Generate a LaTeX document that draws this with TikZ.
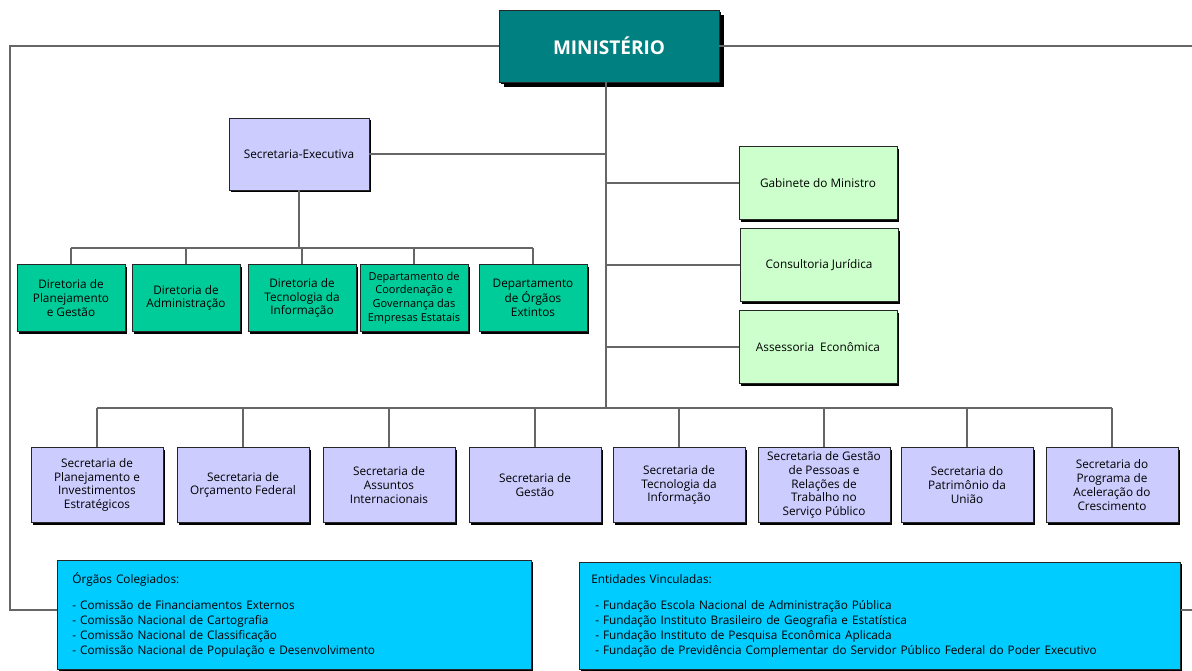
\documentclass[tikz,border=0pt]{standalone}
\usepackage{fontspec}
\setmainfont{Open Sans}
\usetikzlibrary{shadows}
\definecolor{petrol}{RGB}{0,128,128}
\definecolor{lavender}{RGB}{204,204,255}
\definecolor{jade}{RGB}{0,204,153}
\definecolor{mint}{RGB}{204,255,204}
\definecolor{sky}{RGB}{0,204,255}
\tikzset{
  box/.style = {draw=black!85, line width=0.8pt, align=center, inner sep=1pt,
    font=\fontsize{11.8}{13.8}\selectfont,
    drop shadow={shadow xshift=2pt, shadow yshift=-2pt, opacity=1, fill=black}},
  ministerio/.style = {box, fill=petrol, text=white, minimum width=220, minimum height=72,
    font=\fontsize{19}{24}\selectfont\bfseries,
    drop shadow={shadow xshift=5pt, shadow yshift=-5pt, opacity=1, fill=black}},
  executiva/.style = {box, fill=lavender, minimum width=140, minimum height=72},
  diretoria/.style = {box, fill=jade, minimum width=108, minimum height=67},
  assessoria/.style = {box, fill=mint, minimum width=158, minimum height=73},
  secretaria/.style = {box, fill=lavender, minimum width=132, minimum height=75},
  colegiado/.style = {box, fill=sky, anchor=north west, align=left, inner xsep=0pt,
    font=\fontsize{11.8}{15}\selectfont},
  link/.style = {draw=black!60, line width=1.2pt}
}

\begin{document}
\begin{tikzpicture}[x=1pt, y=-1pt]
  \useasboundingbox (0,0) rectangle (1192,670);
  \node[ministerio] (min) at (609,46) {MINISTÉRIO};
  \node[executiva] (secexec) at (299,154) {Secretaria-Executiva};
  % diretorias da secretaria-executiva
  \node[diretoria] (dir1) at (71,298) {Diretoria de\\Planejamento\\e Gestão};
  \node[diretoria] (dir2) at (186,298) {Diretoria de\\Administração};
  \node[diretoria] (dir3) at (302,298) {Diretoria de\\Tecnologia da\\Informação};
  \node[diretoria, font=\fontsize{11}{13.8}\selectfont] (dir4) at (414,298) {Departamento de\\Coordenação e\\Governança das\\Empresas Estatais};
  \node[diretoria] (dir5) at (533,298) {Departamento\\de Órgãos\\Extintos};
  % assessoramento direto
  \node[assessoria] (gab) at (818,183) {Gabinete do Ministro};
  \node[assessoria] (conjur) at (819,265) {Consultoria Jurídica};
  \node[assessoria] (assec) at (818,347) {Assessoria~~Econômica};
  % secretarias
  \node[secretaria] (sec1) at (97,485) {Secretaria de\\Planejamento e\\Investimentos\\Estratégicos};
  \node[secretaria] (sec2) at (243,485) {Secretaria de\\Orçamento Federal};
  \node[secretaria] (sec3) at (389,485) {Secretaria de\\Assuntos\\Internacionais};
  \node[secretaria] (sec4) at (535,485) {Secretaria de\\Gestão};
  \node[secretaria] (sec5) at (679,485) {Secretaria de\\Tecnologia da\\Informação};
  \node[secretaria] (sec6) at (824,485) {Secretaria de Gestão\\de Pessoas e\\Relações de\\Trabalho no\\Serviço Público};
  \node[secretaria] (sec7) at (967,485) {Secretaria do\\Patrimônio da\\União};
  \node[secretaria] (sec8) at (1112,485) {Secretaria do\\Programa de\\Aceleração do\\Crescimento};
  % colegiados e entidades
  \node[colegiado, minimum width=474, minimum height=109, text width=444] (coleg) at (57,560)
    {Órgãos Colegiados:\\[11pt]
     - Comissão de Financiamentos Externos\\
     - Comissão Nacional de Cartografia\\
     - Comissão Nacional de Classificação\\
     - Comissão Nacional de População e Desenvolvimento};
  \node[colegiado, minimum width=601, minimum height=107, text width=577] (entid) at (579,562)
    {Entidades Vinculadas:\\[11pt]
     \ - Fundação Escola Nacional de Administração Pública\\
     \ - Fundação Instituto Brasileiro de Geografia e Estatística\\
     \ - Fundação Instituto de Pesquisa Econômica Aplicada\\
     \ - Fundação de Previdência Complementar do Servidor Público Federal do Poder Executivo};

  \coordinate (topL) at (10,46);
  \coordinate (botL) at (10,610);
  \coordinate (topR) at (1192,46);
  \coordinate (botR) at (1192,610);
  \coordinate (trunk) at (606,408);
  \coordinate (dirbus) at (299,248);

  \path[link] (min.west) -- (topL) -- (botL) -- (botL -| coleg.west);
  \path[link] (min.east) -- (topR);
  \path[link] (entid.east |- botR) -- (botR);
  \path[link] (min.south -| trunk) -- (trunk);
  \path[link] (secexec.east) -- (secexec.east -| trunk);
  \foreach \n in {gab,conjur,assec}
    \path[link] (\n.west) -- (\n.west -| trunk);
  \path[link] (secexec.south) -- (dirbus);
  \path[link] (dir1.north |- dirbus) -- (dir5.north |- dirbus);
  \foreach \n in {1,...,5}
    \path[link] (dir\n.north) -- (dir\n.north |- dirbus);
  \path[link] (sec1.north |- trunk) -- (sec8.north |- trunk);
  \foreach \n in {1,...,8}
    \path[link] (sec\n.north) -- (sec\n.north |- trunk);
\end{tikzpicture}
\end{document}
